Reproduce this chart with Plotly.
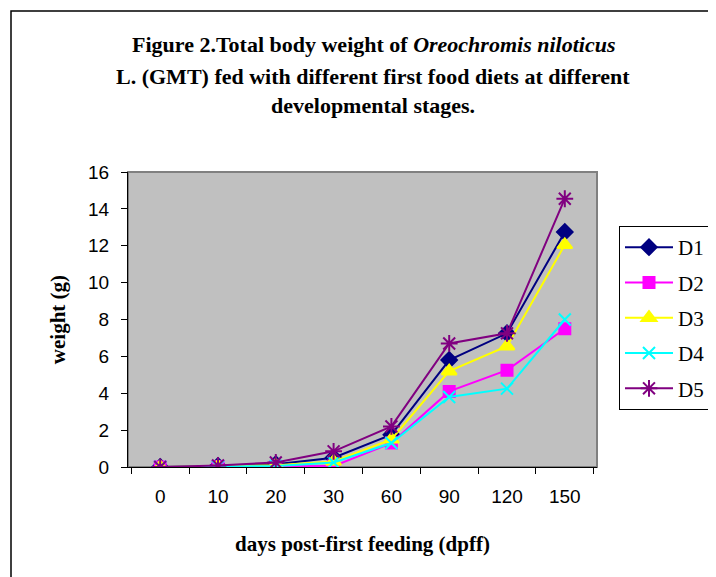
import plotly.graph_objects as go

days = ["0", "10", "20", "30", "60", "90", "120", "150"]
D1 = [0, 0.05, 0.15, 0.5, 1.75, 5.8, 7.25, 12.75]
D2 = [0, 0.02, 0.0, 0.05, 1.3, 4.1, 5.25, 7.5]
D3 = [0, 0.03, 0.1, 0.3, 1.5, 5.2, 6.55, 12.05]
D4 = [0, 0.03, 0.05, 0.25, 1.3, 3.8, 4.25, 8.0]
D5 = [0, 0.08, 0.25, 0.85, 2.2, 6.7, 7.25, 14.55]

title_lines = [
    "<b>Figure 2.Total body weight of <i>Oreochromis niloticus</i></b>",
    "<b>L. (GMT) fed with different first food diets at different</b>",
    "<b>developmental stages.</b>",
]

series = [
    ("D1", D1, "#000080", "diamond", 12),
    ("D2", D2, "#FF00FF", "square", 11),
    ("D3", D3, "#FFFF00", "triangle-up", 13),
    ("D4", D4, "#00FFFF", "x-thin-open", 12),
    ("D5", D5, "#800080", "asterisk-open", 14),
]

fig = go.Figure()
for name, vals, col, sym, sz in series:
    fig.add_trace(go.Scatter(
        x=days, y=vals, name=name, legendgroup=name, mode="lines+markers",
        line=dict(color=col, width=2),
        marker=dict(symbol=sym, size=sz, color=col, line=dict(color=col, width=2)),
    ))

# page body has an 8px offset; figure coords = screen coords - 8
OFF = 8
W, H = 716, 577
L, T = 128 - OFF, 172 - OFF
R = W - (597 - OFF)
B = H - (467 - OFF)
pw, ph = W - L - R, H - T - B

def px(x):
    return (x - OFF - L) / pw

def py(y):
    return (H - B - (y - OFF)) / ph

ann = []
for line, ys in zip(title_lines, [45, 76, 106]):
    ann.append(dict(text=line, xref="paper", yref="paper", x=px(373), y=py(ys),
                    xanchor="center", yanchor="middle", showarrow=False,
                    font=dict(family="Liberation Serif", size=22, color="black")))

fig.update_layout(
    width=W, height=H,
    margin=dict(l=L, r=R, t=T, b=B, autoexpand=False),
    paper_bgcolor="white", plot_bgcolor="#C0C0C0",
    annotations=ann,
    legend=dict(
        x=px(619), y=py(226), xanchor="left", yanchor="top",
        bordercolor="black", borderwidth=1, bgcolor="white",
        font=dict(family="Liberation Serif", size=21, color="black"),
        tracegroupgap=5, itemwidth=48,
    ),
    showlegend=True,
    xaxis=dict(
        type="category", tickson="boundaries", ticks="outside", ticklen=6,
        tickcolor="black", showline=True, linecolor="black", linewidth=1,
        showgrid=False, zeroline=False, ticklabelstandoff=12,
        tickfont=dict(family="Liberation Sans", size=19, color="black"),
        title=dict(text="<b>days post-first feeding (dpff)</b>", standoff=30,
                   font=dict(family="Liberation Serif", size=21, color="black")),
    ),
    yaxis=dict(
        range=[0, 16], dtick=2, ticks="outside", ticklen=6, tickcolor="black",
        showline=True, linecolor="black", linewidth=1,
        showgrid=False, zeroline=False, ticklabelstandoff=8,
        tickfont=dict(family="Liberation Sans", size=19, color="black"),
        title=dict(text="<b>weight (g)</b>", standoff=16,
                   font=dict(family="Liberation Serif", size=21, color="black")),
    ),
    shapes=[
        dict(type="rect", xref="paper", yref="paper", x0=0, y0=0, x1=1, y1=1,
             line=dict(color="#808080", width=2), layer="below"),
        dict(type="rect", xref="paper", yref="paper",
             x0=px(11), y0=py(600), x1=px(740), y1=py(11),
             line=dict(color="black", width=1.5), fillcolor="rgba(0,0,0,0)"),
    ],
)

fig.write_html("out.html")
